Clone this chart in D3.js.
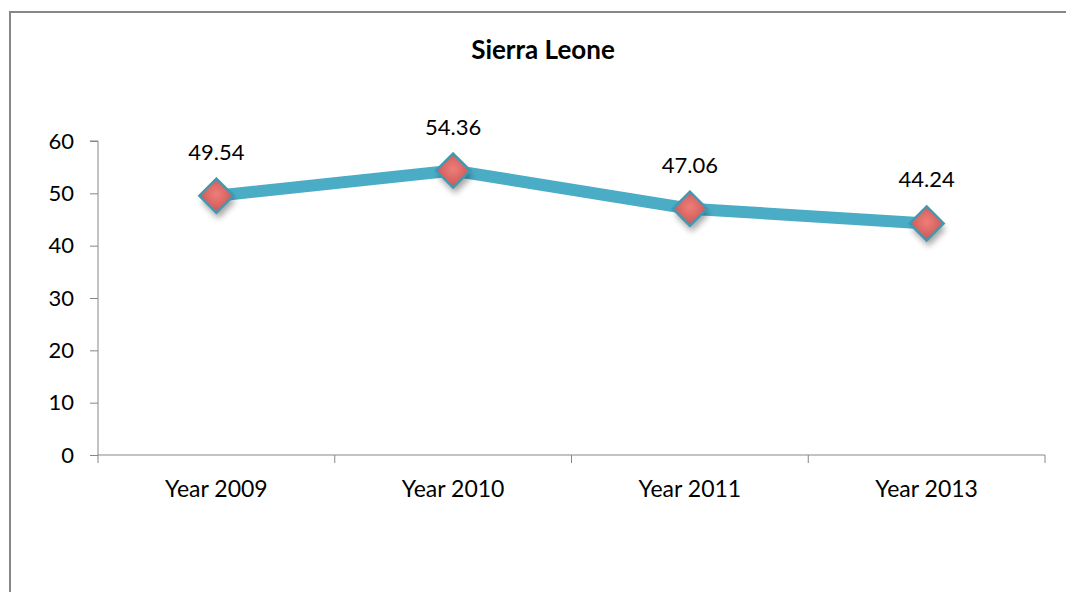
<!DOCTYPE html>
<html>
<head>
<meta charset="utf-8">
<script src="https://cdn.jsdelivr.net/npm/d3@7"></script>
<style>
  body { margin: 0; background: #fff; }
  svg { display: block; font-family: Lato, "Open Sans", sans-serif; }
</style>
</head>
<body>
<svg width="1066" height="592"></svg>
<script>
// data
var title = "Sierra Leone";
var categories = ["Year 2009", "Year 2010", "Year 2011", "Year 2013"];
var values = [49.54, 54.36, 47.06, 44.24];
var yTicks = [0, 10, 20, 30, 40, 50, 60];

var margin = { top: 141, right: 21, bottom: 137, left: 98 };
var width = 1066, height = 592;

var svg = d3.select("svg");

// chart frame (only left + top visible)
svg.append("path")
    .attr("d", "M10,592V12H1066")
    .attr("fill", "none")
    .attr("stroke", "#878787")
    .attr("stroke-width", 2);

var x = d3.scaleBand()
    .domain(categories)
    .range([margin.left, width - margin.right]);
var y = d3.scaleLinear()
    .domain([0, 60])
    .range([height - margin.bottom, margin.top]);

var defs = svg.append("defs");
var grad = defs.append("radialGradient").attr("id", "dia")
    .attr("cx", "50%").attr("cy", "45%").attr("r", "60%");
grad.append("stop").attr("offset", "0%").attr("stop-color", "#EE7E7A");
grad.append("stop").attr("offset", "100%").attr("stop-color", "#C9524F");
var shadow = defs.append("filter").attr("id", "shadow")
    .attr("x", "-50%").attr("y", "-50%").attr("width", "200%").attr("height", "200%");
shadow.append("feGaussianBlur").attr("stdDeviation", 3);

// y axis
var yAxis = d3.axisLeft(y).tickValues(yTicks).tickSize(8).tickPadding(16);
var gy = svg.append("g")
    .attr("transform", "translate(" + margin.left + ",0)")
    .call(yAxis);
gy.selectAll("path, line").attr("stroke", "#878787");
gy.select(".domain").attr("d", "M-8," + y(60) + "H0V" + y(0));
gy.selectAll("text")
    .attr("font-size", 22)
    .attr("fill", "#000")
    .attr("font-family", "Lato, sans-serif");

// x axis
var xAxis = d3.axisBottom(x).tickSize(0).tickPadding(26);
var gx = svg.append("g")
    .attr("transform", "translate(0," + y(0) + ")")
    .call(xAxis);
gx.select(".domain").attr("stroke", "#878787").attr("d", "M" + margin.left + ",0H" + (width - margin.right));
gx.selectAll("text")
    .attr("font-size", 23)
    .attr("fill", "#000")
    .attr("font-family", "Lato, sans-serif");
// category boundary ticks
var bounds = categories.map(function (c) { return x(c); }).concat([x.range()[1]]);
gx.selectAll(".bound")
    .data(bounds)
    .enter().append("line")
    .attr("class", "bound")
    .attr("x1", function (d) { return d; })
    .attr("x2", function (d) { return d; })
    .attr("y1", 0).attr("y2", 8)
    .attr("stroke", "#878787");

// line
var line = d3.line()
    .x(function (d, i) { return x(categories[i]) + x.bandwidth() / 2; })
    .y(function (d) { return y(d); });
svg.append("path")
    .datum(values)
    .attr("d", line)
    .attr("fill", "none")
    .attr("stroke", "#4BACC6")
    .attr("stroke-width", 12);

// markers
var pts = svg.selectAll(".pt")
    .data(values)
    .enter().append("g")
    .attr("class", "pt")
    .attr("transform", function (d, i) {
        return "translate(" + (x(categories[i]) + x.bandwidth() / 2) + "," + y(d) + ")";
    });
var r = 17;
var dia = "M0," + (-r) + "L" + r + ",0L0," + r + "L" + (-r) + ",0Z";
pts.append("path")
    .attr("d", dia)
    .attr("transform", "translate(2,6)")
    .attr("fill", "#000")
    .attr("opacity", 0.35)
    .attr("filter", "url(#shadow)");
pts.append("path")
    .attr("d", dia)
    .attr("fill", "url(#dia)")
    .attr("stroke", "#3E9AB3")
    .attr("stroke-width", 2.5);
// data labels
pts.append("text")
    .attr("y", -36)
    .attr("text-anchor", "middle")
    .attr("font-size", 22)
    .attr("fill", "#000")
    .text(function (d) { return d.toFixed(2); });

// title
svg.append("text")
    .attr("x", 543)
    .attr("y", 59)
    .attr("text-anchor", "middle")
    .attr("font-size", 26)
    .attr("font-weight", "bold")
    .attr("fill", "#000")
    .text(title);
</script>
</body>
</html>
